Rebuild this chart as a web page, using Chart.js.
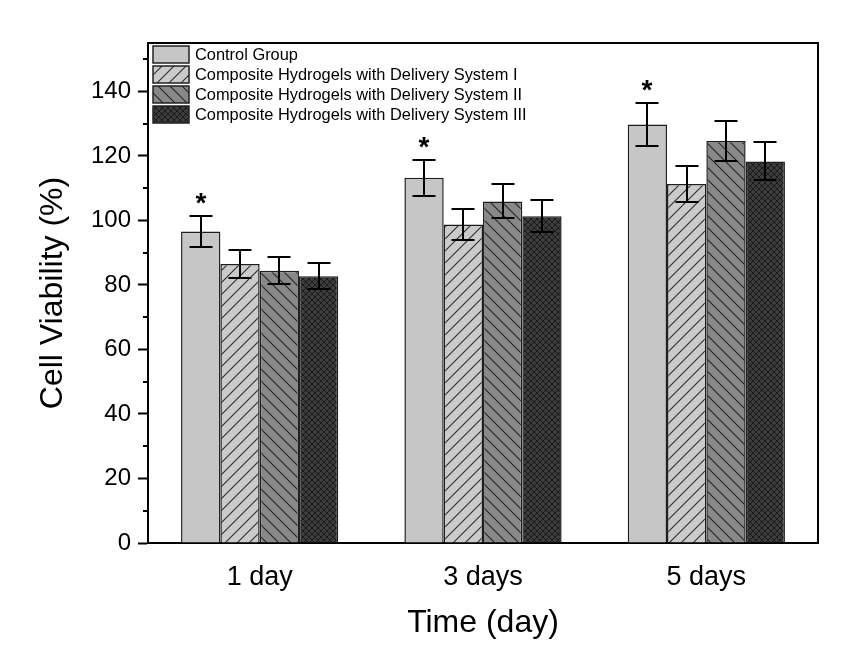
<!DOCTYPE html>
<html>
<head>
<meta charset="utf-8">
<script src="https://cdn.jsdelivr.net/npm/chart.js@4/dist/chart.umd.min.js"></script>
<style>
  html, body { margin: 0; padding: 0; background: #fff; }
  #chart { display: block; }
</style>
</head>
<body>
<canvas id="chart" width="845" height="648"></canvas>
<script>
// data
const categories = ['1 day', '3 days', '5 days'];
const seriesLabels = [
    'Control Group',
    'Composite Hydrogels with Delivery System I',
    'Composite Hydrogels with Delivery System II',
    'Composite Hydrogels with Delivery System III'
];
const controlValues = [96.6, 113.2, 129.7];
const controlErrors = [4.8, 5.6, 6.6];
const system1Values = [86.5, 98.7, 111.3];
const system1Errors = [4.3, 4.8, 5.6];
const system2Values = [84.4, 105.9, 124.6];
const system2Errors = [4.2, 5.3, 6.2];
const system3Values = [82.7, 101.3, 118.3];
const system3Errors = [4.0, 5.0, 5.9];
// "*" marks on the control group
const controlSignificant = [true, true, true];
const yMajorTicks = [0, 20, 40, 60, 80, 100, 120, 140];
const yMinorTicks = [10, 30, 50, 70, 90, 110, 130, 150];

const FONT = "'Liberation Sans', Arial, sans-serif";
const mainCtx = document.getElementById('chart').getContext('2d');

// hatch fills
function makePattern(size, bg, draw) {
    const c = document.createElement('canvas');
    c.width = size; c.height = size;
    const g = c.getContext('2d');
    g.fillStyle = bg;
    g.fillRect(0, 0, size, size);
    draw(g, size);
    return mainCtx.createPattern(c, 'repeat');
}

const fillControl = '#c6c6c6';
const fillSys1 = makePattern(12, '#cbcbcb', g => {
    g.strokeStyle = '#2e2e2e';
    g.lineWidth = 1.1;
    g.beginPath();
    g.moveTo(-2, 14); g.lineTo(14, -2);
    g.moveTo(-8, 8); g.lineTo(8, -8);
    g.moveTo(4, 20); g.lineTo(20, 4);
    g.stroke();
});
const fillSys2 = makePattern(12, '#888888', g => {
    g.strokeStyle = '#262626';
    g.lineWidth = 1.1;
    g.beginPath();
    g.moveTo(-2, -2); g.lineTo(14, 14);
    g.moveTo(-8, 4); g.lineTo(8, 20);
    g.moveTo(4, -8); g.lineTo(20, 8);
    g.stroke();
});
const fillSys3 = makePattern(6, '#3c3c3c', (g, s) => {
    g.strokeStyle = '#1a1a1a';
    g.lineWidth = 1;
    g.beginPath();
    g.moveTo(0, 0); g.lineTo(s, s);
    g.moveTo(-s, 0); g.lineTo(0, s);
    g.moveTo(s, 0); g.lineTo(2 * s, s);
    g.moveTo(0, s); g.lineTo(s, 0);
    g.moveTo(-s, s); g.lineTo(0, 0);
    g.moveTo(s, s); g.lineTo(2 * s, 0);
    g.stroke();
});

const errors = [controlErrors, system1Errors, system2Errors, system3Errors];

// error bars + stars
const errorBarPlugin = {
    id: 'errorBars',
    afterDatasetsDraw(chart) {
        const ctx = chart.ctx;
        const y = chart.scales.y;
        ctx.save();
        ctx.strokeStyle = '#000';
        ctx.lineWidth = 2;
        chart.data.datasets.forEach((ds, i) => {
            const meta = chart.getDatasetMeta(i);
            meta.data.forEach((bar, j) => {
                const v = ds.data[j];
                const e = errors[i][j];
                const top = Math.round(y.getPixelForValue(v + e));
                const bot = Math.round(y.getPixelForValue(v - e));
                const x = Math.round(bar.x);
                ctx.beginPath();
                ctx.moveTo(x, top); ctx.lineTo(x, bot);
                ctx.moveTo(x - 11.5, top); ctx.lineTo(x + 11.5, top);
                ctx.moveTo(x - 11.5, bot); ctx.lineTo(x + 11.5, bot);
                ctx.stroke();
                if (i === 0 && controlSignificant[j]) {
                    ctx.fillStyle = '#000';
                    ctx.font = 'bold 28px ' + FONT;
                    ctx.textAlign = 'center';
                    ctx.textBaseline = 'alphabetic';
                    ctx.fillText('*', x, top - 4);
                }
            });
        });
        ctx.restore();
    }
};

// box frame, minor ticks, legend inside the plot
const framePlugin = {
    id: 'frame',
    afterDraw(chart) {
        const ctx = chart.ctx;
        const a = chart.chartArea;
        const y = chart.scales.y;
        ctx.save();
        ctx.strokeStyle = '#000';
        ctx.lineWidth = 2;
        ctx.beginPath();
        ctx.moveTo(a.left, a.top); ctx.lineTo(a.right, a.top); ctx.lineTo(a.right, a.bottom);
        ctx.stroke();
        ctx.beginPath();
        yMinorTicks.forEach(v => {
            const py = Math.round(y.getPixelForValue(v));
            ctx.moveTo(a.left - 5, py); ctx.lineTo(a.left, py);
        });
        ctx.stroke();

        // legend
        ctx.font = '16.4px ' + FONT;
        ctx.textBaseline = 'middle';
        ctx.textAlign = 'left';
        chart.data.datasets.forEach((ds, i) => {
            const bx = 153, by = 46 + i * 20;
            ctx.fillStyle = ds.backgroundColor;
            ctx.fillRect(bx, by, 36, 17);
            ctx.lineWidth = 1.5;
            ctx.strokeStyle = '#222';
            ctx.strokeRect(bx, by, 36, 17);
            ctx.fillStyle = '#000';
            ctx.fillText(ds.label, 195, by + 9);
        });
        ctx.restore();
    }
};

new Chart(document.getElementById('chart'), {
    type: 'bar',
    data: {
        labels: categories,
        datasets: [
            { label: seriesLabels[0], data: controlValues, backgroundColor: fillControl },
            { label: seriesLabels[1], data: system1Values, backgroundColor: fillSys1 },
            { label: seriesLabels[2], data: system2Values, backgroundColor: fillSys2 },
            { label: seriesLabels[3], data: system3Values, backgroundColor: fillSys3 }
        ].map(d => Object.assign(d, {
            borderColor: '#1e1e1e',
            borderWidth: 1.5,
            categoryPercentage: 0.704,
            barPercentage: 1.0
        }))
    },
    options: {
        responsive: false,
        animation: false,
        devicePixelRatio: 1,
        layout: { padding: { top: 43, right: 27, left: 0, bottom: 0 } },
        plugins: {
            legend: { display: false },
            tooltip: { enabled: false }
        },
        scales: {
            x: {
                grid: { display: false, drawTicks: false },
                border: { display: true, color: '#000', width: 2 },
                ticks: { color: '#000', font: { family: FONT, size: 27 }, padding: 18 },
                title: {
                    display: true, text: 'Time (day)', color: '#000',
                    font: { family: FONT, size: 32 }, padding: { top: 0, bottom: 6 }
                },
                afterFit: s => { s.height = 105; }
            },
            y: {
                min: 0,
                max: 155,
                afterBuildTicks: s => { s.ticks = yMajorTicks.map(v => ({ value: v })); },
                grid: {
                    drawOnChartArea: false, drawTicks: true, tickLength: 10,
                    tickWidth: 2, tickColor: '#000'
                },
                border: { display: true, color: '#000', width: 2 },
                ticks: { color: '#000', font: { family: FONT, size: 24 }, padding: 7 },
                title: {
                    display: true, text: 'Cell Viability (%)', color: '#000',
                    font: { family: FONT, size: 32 }, padding: { top: 34, bottom: 0 }
                },
                afterFit: s => { s.width = 148; }
            }
        }
    },
    plugins: [errorBarPlugin, framePlugin]
});
</script>
</body>
</html>
